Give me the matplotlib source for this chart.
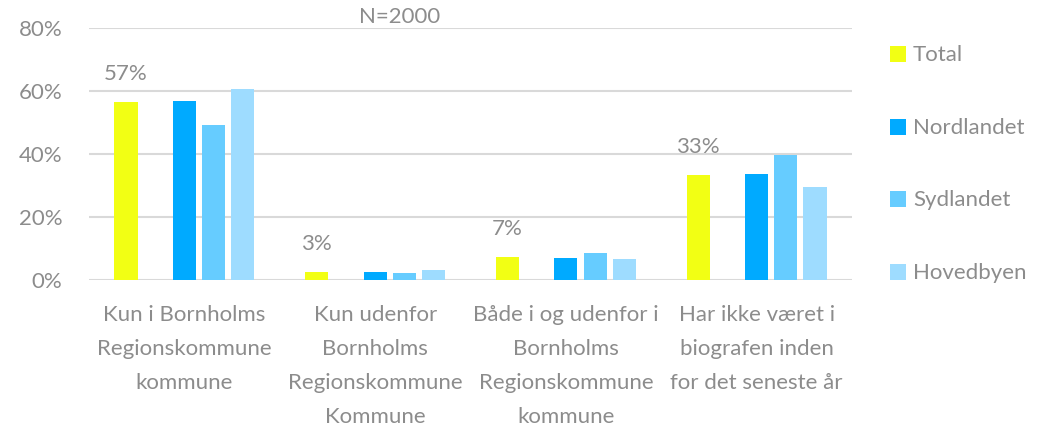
import matplotlib
matplotlib.use("Agg")
import matplotlib.pyplot as plt
from matplotlib.patches import Rectangle
import numpy as np

categories = [
    "Kun i Bornholms\nRegionskommune\nkommune",
    "Kun udenfor\nBornholms\nRegionskommune\nKommune",
    "Både i og udenfor i\nBornholms\nRegionskommune\nkommune",
    "Har ikke været i\nbiografen inden\nfor det seneste år",
]
series_names = ["Total", "Nordlandet", "Sydlandet", "Hovedbyen"]
total = [0.565, 0.026, 0.072, 0.333]
nordlandet = [0.568, 0.024, 0.071, 0.335]
sydlandet = [0.493, 0.022, 0.086, 0.396]
hovedbyen = [0.606, 0.032, 0.066, 0.294]
total_labels = ["57%", "3%", "7%", "33%"]
yticks = [0, 0.2, 0.4, 0.6, 0.8]
ytick_labels = ["0%", "20%", "40%", "60%", "80%"]
note = "N=2000"

colors = ["#F2FF14", "#00AAFF", "#66CCFF", "#9EDCFF"]
text_color = "#8C8C8C"
grid_color = "#D9D9D9"

plt.rcParams["font.family"] = ["Lato", "DejaVu Sans"]
FS = 16

W, H = 1043, 429
fig = plt.figure(figsize=(W / 100, H / 100), dpi=100)
ax = fig.add_axes([89 / W, 1 - 280 / H, (852 - 89) / W, (280 - 28) / H])

x = np.arange(len(categories))
slot = 0.153
bw = 0.121
data = [total, nordlandet, sydlandet, hovedbyen]
offsets = [-2, 0, 1, 2]
for vals, off, c, name in zip(data, offsets, colors, series_names):
    ax.bar(x + off * slot, vals, width=bw, color=c, zorder=3, label=name)

for xi, v, lab in zip(x, total, total_labels):
    ax.annotate(lab, (xi - 2 * slot, v), xytext=(0, 18), textcoords="offset pixels",
                ha="center", va="bottom", fontsize=FS, color=text_color)

ax.set_xlim(-0.5, len(categories) - 0.5)
ax.set_ylim(0, 0.8)
ax.set_yticks(yticks)
ax.set_yticklabels(ytick_labels)
ax.yaxis.grid(True, color=grid_color, linewidth=1.5, zorder=0)
ax.set_axisbelow(True)
for s in ax.spines.values():
    s.set_visible(False)
ax.tick_params(axis="y", length=0, pad=19, labelsize=FS, labelcolor=text_color)
ax.set_xticks(x)
ax.set_xticklabels(categories)
ax.tick_params(axis="x", length=0, pad=18, labelsize=FS, labelcolor=text_color)
for t in ax.get_xticklabels():
    t.set_linespacing(1.88)

fig.text(400 / W, 1 - 17 / H, note, ha="center", va="center", fontsize=FS, color=text_color)

# legend (manual layout)
leg_y = [54, 127, 199, 272]
for name, c, yc in zip(series_names, colors, leg_y):
    fig.patches.append(Rectangle(((890) / W, 1 - (yc + 8) / H), 16 / W, 16 / H,
                                 transform=fig.transFigure, facecolor=c, edgecolor="none"))
    fig.text(913 / W, 1 - (yc - 1) / H, name, ha="left", va="center_baseline",
             fontsize=FS, color=text_color)

fig.savefig("out.png", dpi=100)
